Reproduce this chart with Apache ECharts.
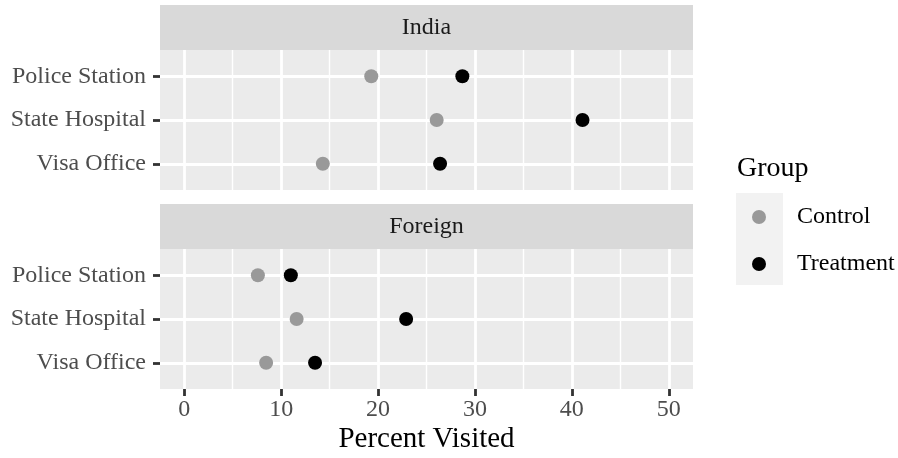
<!DOCTYPE html>
<html>
<head>
<meta charset="utf-8">
<script src="https://cdn.jsdelivr.net/npm/echarts@6/dist/echarts.min.js"></script>
<style>
html,body{margin:0;padding:0;background:#fff;}
#chart{width:898px;height:458px;}
</style>
</head>
<body>
<div id="chart"></div>
<script>
// ---- data ----
const categories = ['Police Station', 'State Hospital', 'Visa Office'];
const panels = ['India', 'Foreign'];
const groups = ['Control', 'Treatment'];
const indiaControl = [19.3, 26.05, 14.3];
const indiaTreatment = [28.7, 41.1, 26.4];
const foreignControl = [7.6, 11.6, 8.45];
const foreignTreatment = [11.0, 22.9, 13.5];
const xMajorTicks = [0, 10, 20, 30, 40, 50];
const xMinorTicks = [5, 15, 25, 35, 45];
const xTitle = 'Percent Visited';
const legendTitle = 'Group';

// ---- style ----
const FONT = 'Liberation Serif';
const colors = { Control: '#999999', Treatment: '#000000' };
const PANEL_L = 160, PANEL_W = 533;
const panelTops = [50, 249];
const PANEL_H = 140;
const STRIP_H = 45;
const catIdx = categories.map((c, i) => i);

const chart = echarts.init(document.getElementById('chart'), null, { renderer: 'canvas' });

const grids = panelTops.map(t => ({
  left: PANEL_L, top: t, width: PANEL_W, height: PANEL_H,
  show: true, backgroundColor: '#ebebeb', borderWidth: 0,
  containLabel: false, outerBoundsMode: 'none'
}));

const xAxes = [];
const yAxes = [];
panelTops.forEach((t, gi) => {
  const isBottom = gi === panelTops.length - 1;
  // major
  xAxes.push({
    type: 'value', gridIndex: gi, min: -2.5, max: 52.5, position: 'bottom',
    axisLine: { show: false, onZero: false },
    axisTick: { show: isBottom, customValues: xMajorTicks, length: 7, lineStyle: { color: '#333333', width: 2.8 } },
    axisLabel: { show: isBottom, customValues: xMajorTicks, margin: 9, fontSize: 24, color: '#4d4d4d', fontFamily: FONT },
    splitLine: { show: true, lineStyle: { color: '#ffffff', width: 2.8 } },
    name: isBottom ? xTitle : '',
    nameLocation: 'middle', nameGap: 36,
    nameTextStyle: { fontSize: 29, color: '#000000', fontFamily: FONT }
  });
  // minor grid lines
  xAxes.push({
    type: 'value', gridIndex: gi, min: -2.5, max: 52.5, position: 'top',
    axisLine: { show: false, onZero: false },
    axisTick: { show: false, customValues: xMinorTicks },
    axisLabel: { show: false, customValues: xMinorTicks },
    splitLine: { show: true, lineStyle: { color: '#ffffff', width: 1.4 } }
  });
  yAxes.push({
    type: 'value', gridIndex: gi, min: -0.6, max: 2.6, inverse: true,
    axisLine: { show: false, onZero: false },
    axisTick: { show: true, customValues: catIdx, length: 7, lineStyle: { color: '#333333', width: 2.8 } },
    axisLabel: { show: true, customValues: catIdx, margin: 14, fontSize: 24, color: '#4d4d4d', fontFamily: FONT,
      formatter: v => categories[Math.round(v)] },
    splitLine: { show: true, lineStyle: { color: '#ffffff', width: 2.8 } }
  });
});

const seriesData = [
  { name: 'Control', panel: 0, vals: indiaControl },
  { name: 'Treatment', panel: 0, vals: indiaTreatment },
  { name: 'Control', panel: 1, vals: foreignControl },
  { name: 'Treatment', panel: 1, vals: foreignTreatment }
];

const series = seriesData.map(s => ({
  type: 'scatter', name: s.name,
  xAxisIndex: s.panel * 2, yAxisIndex: s.panel,
  symbol: 'circle', symbolSize: 14,
  itemStyle: { color: colors[s.name], opacity: 1 },
  emphasis: { disabled: true },
  data: s.vals.map((v, i) => [v, i]),
  z: 3
}));

const graphics = [];
panelTops.forEach((t, gi) => {
  graphics.push({
    type: 'rect', left: PANEL_L, top: t - STRIP_H, silent: true,
    shape: { width: PANEL_W, height: STRIP_H }, style: { fill: '#d9d9d9' }, z: -1
  });
  graphics.push({
    type: 'text', x: PANEL_L + PANEL_W / 2, y: t - STRIP_H / 2, silent: true,
    style: { text: panels[gi], fontSize: 24, fontFamily: FONT, fill: '#1a1a1a', align: 'center', verticalAlign: 'middle' }
  });
});
// legend key background and title
graphics.push({
  type: 'rect', left: 736, top: 193, silent: true,
  shape: { width: 47, height: 92 }, style: { fill: '#f2f2f2' }, z: -1
});
graphics.push({
  type: 'text', x: 737, y: 169, silent: true,
  style: { text: legendTitle, fontSize: 28, fontFamily: FONT, fill: '#000000', align: 'left', verticalAlign: 'middle' }
});

chart.setOption({
  animation: false,
  backgroundColor: '#ffffff',
  textStyle: { fontFamily: FONT },
  grid: grids,
  xAxis: xAxes,
  yAxis: yAxes,
  legend: {
    data: groups, orient: 'vertical', left: 752, top: 205, padding: 0,
    itemWidth: 66, itemHeight: 14, itemGap: 23, icon: 'circle',
    selectedMode: false,
    textStyle: { fontSize: 24, lineHeight: 24, color: '#000000', fontFamily: FONT }
  },
  tooltip: { show: false },
  graphic: graphics,
  series: series
});
</script>
</body>
</html>
